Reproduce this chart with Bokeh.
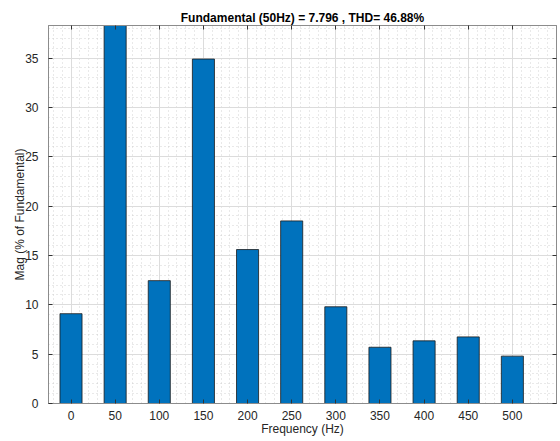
from bokeh.plotting import figure
from bokeh.models import (LinearAxis, SingleIntervalTicker, FixedTicker, Range1d,
                          ColumnDataSource, CustomJSTickFormatter)
from bokeh.embed import file_html
from bokeh.resources import INLINE

freqs = [0, 50, 100, 150, 200, 250, 300, 350, 400, 450, 500]
mags = [9.1, 100.0, 12.45, 34.9, 15.6, 18.5, 9.8, 5.7, 6.35, 6.75, 4.8]
x_ticks = [0, 50, 100, 150, 200, 250, 300, 350, 400, 450, 500]
title_text = "Fundamental (50Hz) = 7.796 , THD= 46.88%"
x_label = "Frequency (Hz)"
y_label = "Mag (% of Fundamental)"

FONT = "Liberation Sans"
TXT = "#262626"
BOX = "#8c8c8c"

src = ColumnDataSource(dict(f=freqs, m=mags))

p = figure(width=560, height=441, output_backend="svg", toolbar_location=None,
           x_range=Range1d(-25.5, 550), y_range=Range1d(0, 38.3),
           min_border_left=48, min_border_right=4, min_border_top=25, min_border_bottom=38,
           background_fill_color="white", border_fill_color="white")

p.vbar(x="f", top="m", width=25, source=src, fill_color="#0072BD",
       line_color="#1a1a1a", line_width=0.8)

p.title.text = title_text
p.title.text_font = FONT
p.title.text_font_size = "12px"
p.title.text_font_style = "bold"
p.title.text_color = "#000000"
p.title.align = "center"
p.title.offset = 0
p.title.standoff = 2

xt_major = FixedTicker(ticks=x_ticks)
xt = SingleIntervalTicker(interval=50, num_minor_ticks=5)
yt = SingleIntervalTicker(interval=5, num_minor_ticks=5)

p.xaxis.ticker = xt_major
p.yaxis.ticker = yt
p.xaxis.axis_label = x_label
p.yaxis.axis_label = y_label

for ax in (p.xaxis[0], p.yaxis[0]):
    ax.axis_line_color = BOX
    ax.major_tick_line_color = "#333333"
    ax.major_tick_in = 4
    ax.major_tick_out = 0
    ax.minor_tick_line_color = None
    ax.major_label_text_font = FONT
    ax.major_label_text_font_size = "12px"
    ax.major_label_text_color = TXT
    ax.axis_label_text_font = FONT
    ax.axis_label_text_font_size = "12px"
    ax.axis_label_text_font_style = "normal"
    ax.axis_label_text_color = TXT

p.xaxis.major_label_standoff = 7
p.xaxis.axis_label_standoff = -1
p.yaxis.major_label_standoff = 6
p.yaxis.axis_label_standoff = -5

blank = CustomJSTickFormatter(code="return '';")
for side in ("above", "right"):
    tk = FixedTicker(ticks=x_ticks) if side == "above" else SingleIntervalTicker(interval=5)
    ax = LinearAxis(ticker=tk, formatter=blank, major_label_standoff=0)
    ax.axis_line_color = BOX
    ax.major_tick_line_color = "#333333"
    ax.major_tick_in = 4
    ax.major_tick_out = 0
    ax.minor_tick_line_color = None
    p.add_layout(ax, side)

p.outline_line_color = BOX

p.xgrid.ticker = xt
p.ygrid.ticker = yt
for g in (p.xgrid[0], p.ygrid[0]):
    g.grid_line_color = "#dcdcdc"
    g.grid_line_width = 1
    g.minor_grid_line_color = "#c8c8c8"
    g.minor_grid_line_dash = "1 3"
    g.minor_grid_line_alpha = 0.8

open("out.html", "w").write(file_html(p, INLINE))
